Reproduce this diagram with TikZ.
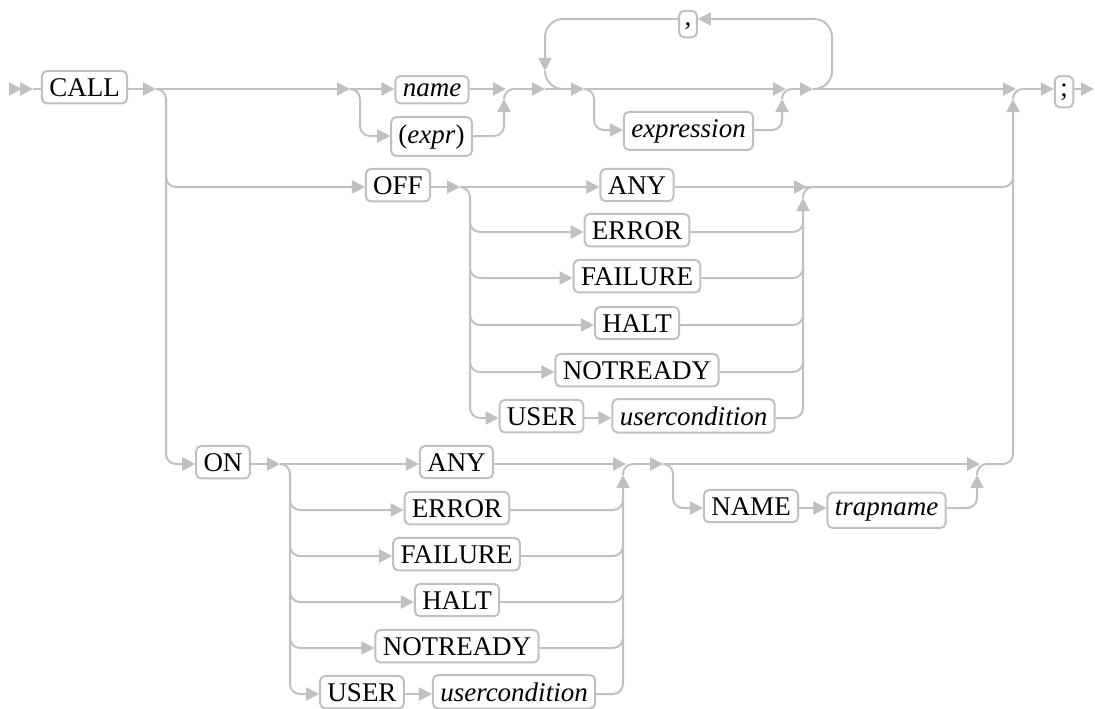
\documentclass[tikz,border=0pt]{standalone}
\usepackage{fontspec}
\setmainfont{Liberation Serif}
\usetikzlibrary{arrows.meta}
\definecolor{railc}{RGB}{192,192,192}
\begin{document}
\begin{tikzpicture}[x=1pt,y=-1pt,
  rl/.style={draw=railc,line width=2pt,rounded corners=10pt},
  ar/.style={rl,-{Triangle[length=13pt,width=13pt]}},
  kw/.style={draw=railc,line width=2pt,rounded corners=5pt,inner xsep=7.3pt,inner ysep=7.2pt,anchor=base,fill=white,text=black,font=\fontsize{27}{31}\selectfont},
  nt/.style={kw,font=\fontsize{27}{31}\selectfont\itshape},
  pn/.style={kw,inner xsep=5.5pt}]
\useasboundingbox (0,0) rectangle (1095,709);

% ---------- boxes ----------
\node[kw] (call) at (84.5,96) {CALL};
\node[nt] (name) at (432,96) {name};
\node[kw] (expr) at (431.5,143) {(\textit{expr})};
\node[nt] (expression) at (688.5,137) {expression};
\node[pn,text height=8pt] (comma) at (688,26) {,};
\node[pn] (semi) at (1064,96) {;};

\node[kw] (off) at (398,194) {OFF};
\node[kw] (anyA) at (637,194) {ANY};
\node[kw] (errA) at (637,239) {ERROR};
\node[kw] (failA) at (637,285) {FAILURE};
\node[kw] (haltA) at (637,332) {HALT};
\node[kw] (notA) at (637,379) {NOTREADY};
\node[kw] (userA) at (541.5,425) {USER};
\node[nt] (ucA) at (693.5,425) {usercondition};

\node[kw] (on) at (223,471) {ON};
\node[kw] (anyB) at (456.5,471) {ANY};
\node[kw] (errB) at (457,517) {ERROR};
\node[kw] (failB) at (456.5,563) {FAILURE};
\node[kw] (haltB) at (457,609) {HALT};
\node[kw] (notB) at (457,655) {NOTREADY};
\node[kw] (userB) at (362,701) {USER};
\node[nt] (ucB) at (514,701) {usercondition};

\node[kw] (nameK) at (751,515) {NAME};
\node[nt] (trap) at (886.5,515) {trapname};

% ---------- coordinates ----------
\coordinate (s0) at (11,89);
\coordinate (s1) at (22,89);
\coordinate (s2) at (33,89);
\coordinate (j1) at (156,89);
\coordinate (j2) at (350,89);
\coordinate (m1) at (506,89);
\coordinate (m1u) at (504,99);
\coordinate (j3) at (545,89);
\coordinate (j4) at (584,89);
\coordinate (m2) at (786,89);
\coordinate (m2u) at (782,99);
\coordinate (lpR) at (813,89);
\coordinate (lpD) at (545,71);
\coordinate (m3) at (1016,89);
\coordinate (m3u) at (1013,99);
\coordinate (fin) at (1094,89);
\coordinate (j5) at (460,187);
\coordinate (m5) at (807,187);
\coordinate (m5u) at (803,198);
\coordinate (j6) at (280,464);
\coordinate (m6) at (626,464);
\coordinate (m6u) at (623,475);
\coordinate (j7) at (663,464);
\coordinate (m7) at (980,464);
\coordinate (m7u) at (977,475);

% ---------- main line ----------
\draw[ar] (s0) -- (s1);
\draw[ar] (s1) -- (s2);
\draw[rl] (s2) -- (call.west |- s2);
\draw[ar] (call.east |- j1) -- (j1);
\draw[ar] (j1) -- (j2);
\draw[ar] (j1) -- (166,89) -- (166,187) -- (off.west |- 0,187);
\draw[ar] (166,177) -- (166,464) -- (on.west |- 0,464);

% name / (expr)
\draw[ar] (j2) -- (name.west |- j2);
\draw[ar] (j2) -- (360,89) -- (360,136) -- (expr.west |- 0,136);
\draw[ar] (name.east |- j2) -- (m1);
\draw[ar] (expr.east |- 0,136) -- (504,136) -- (m1u);
\draw[rl] (m1u) -- (504,89) -- (514,89);
\draw[ar] (514,89) -- (j3);

% repetition loop with comma
\draw[ar,rounded corners=18pt] (lpR) -- (832,89) -- (832,19) -- (comma.east |- 0,19);
\draw[ar,rounded corners=18pt] (comma.west |- 0,19) -- (545,19) -- (lpD);
\draw[rl,rounded corners=18pt] (lpD) -- (545,89) -- (563,89);

% optional expression
\draw[ar] (j3) -- (j4);
\draw[ar] (j4) -- (m2);
\draw[ar] (j4) -- (594,89) -- (594,130) -- (expression.west |- 0,130);
\draw[ar] (expression.east |- 0,130) -- (782,130) -- (m2u);
\draw[rl] (m2u) -- (782,89) -- (792,89);
\draw[ar] (792,89) -- (lpR);
\draw[ar] (lpR) -- (m3);

% final merge and semicolon
\draw[rl] (m3u) -- (1013,89) -- (1023,89);
\draw[ar] (1023,89) -- (semi.west |- 0,89);
\draw[ar] (semi.east |- fin) -- (fin);

% ---------- OFF block ----------
\draw[ar] (off.east |- j5) -- (j5);
\draw[ar] (j5) -- (anyA.west |- j5);
\draw[ar] (j5) -- (470,187) -- (470,232) -- (errA.west |- 0,232);
\draw[ar] (470,222) -- (470,278) -- (failA.west |- 0,278);
\draw[ar] (470,268) -- (470,325) -- (haltA.west |- 0,325);
\draw[ar] (470,315) -- (470,372) -- (notA.west |- 0,372);
\draw[ar] (470,362) -- (470,418) -- (userA.west |- 0,418);
\draw[ar] (userA.east |- 0,418) -- (ucA.west |- 0,418);
\draw[ar] (anyA.east |- m5) -- (m5);
\draw[rl] (errA.east |- 0,232) -- (803,232) -- (803,222);
\draw[rl] (failA.east |- 0,278) -- (803,278) -- (803,268);
\draw[rl] (haltA.east |- 0,325) -- (803,325) -- (803,315);
\draw[rl] (notA.east |- 0,372) -- (803,372) -- (803,362);
\draw[ar] (ucA.east |- 0,418) -- (803,418) -- (m5u);
\draw[rl] (m5u) -- (803,187) -- (814,187) -- (1013,187) -- (1013,177);

% ---------- ON block ----------
\draw[ar] (on.east |- j6) -- (j6);
\draw[ar] (j6) -- (anyB.west |- j6);
\draw[ar] (j6) -- (290,464) -- (290,510) -- (errB.west |- 0,510);
\draw[ar] (290,500) -- (290,556) -- (failB.west |- 0,556);
\draw[ar] (290,546) -- (290,602) -- (haltB.west |- 0,602);
\draw[ar] (290,592) -- (290,648) -- (notB.west |- 0,648);
\draw[ar] (290,638) -- (290,694) -- (userB.west |- 0,694);
\draw[ar] (userB.east |- 0,694) -- (ucB.west |- 0,694);
\draw[ar] (anyB.east |- m6) -- (m6);
\draw[rl] (errB.east |- 0,510) -- (623,510) -- (623,500);
\draw[rl] (failB.east |- 0,556) -- (623,556) -- (623,546);
\draw[rl] (haltB.east |- 0,602) -- (623,602) -- (623,592);
\draw[rl] (notB.east |- 0,648) -- (623,648) -- (623,638);
\draw[ar] (ucB.east |- 0,694) -- (623,694) -- (m6u);
\draw[rl] (m6u) -- (623,464) -- (634,464);
\draw[ar] (634,464) -- (j7);

% NAME trapname
\draw[ar] (j7) -- (m7);
\draw[ar] (j7) -- (673,464) -- (673,508) -- (nameK.west |- 0,508);
\draw[ar] (nameK.east |- 0,508) -- (trap.west |- 0,508);
\draw[ar] (trap.east |- 0,508) -- (977,508) -- (m7u);
\draw[rl] (m7u) -- (977,464) -- (988,464);
\draw[ar] (988,464) -- (1013,464) -- (m3u);
\end{tikzpicture}
\end{document}
